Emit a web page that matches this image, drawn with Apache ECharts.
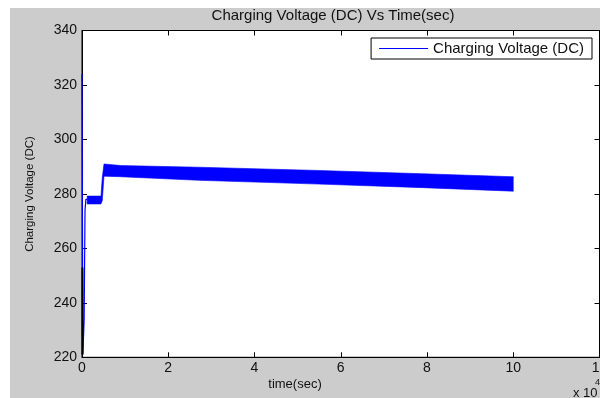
<!DOCTYPE html>
<html>
<head>
<meta charset="utf-8">
<script src="https://cdn.jsdelivr.net/npm/echarts@6/dist/echarts.min.js"></script>
<style>
  html, body { margin: 0; padding: 0; background: #fff; }
  #bg { position: absolute; left: 10px; top: 8px; width: 590px; height: 390px; background: #cccccc; }
  #main { position: absolute; left: 0; top: 0; width: 600px; height: 398px; }
</style>
</head>
<body>
<div id="bg"></div>
<div id="main"></div>
<script>
// time in units of 10^4 sec
var xTicks = [0, 2, 4, 6, 8, 10, 12];
var yTicks = [220, 240, 260, 280, 300, 320, 340];

// start-up transient (thin line)
var startTime = [0, 0.02, 0.05, 0.07, 0.09, 0.12];
var startVolt = [324, 221, 234, 274, 278, 278];

// short dark segment near t=0
var darkTime = [0.01, 0.01];
var darkVolt = [253, 221];

// ripple band: lower and upper envelope
var bandTime = [0.12, 0.44, 0.47, 0.51, 0.9, 2.7, 5.5, 7.9, 10.0];
var bandLow  = [276.3, 276.3, 277.5, 286.5, 286.3, 285.0, 283.6, 282.3, 281.0];
var bandHigh = [279.2, 279.2, 286.0, 291.0, 290.4, 289.8, 288.6, 287.4, 286.3];

var FONT = '"Liberation Sans", Arial, sans-serif';
var TXT = '#111';
var BLUE = '#0000ff';

var myChart = echarts.init(document.getElementById('main'));

var bandData = [], startData = [], darkData = [];
for (var i = 0; i < bandTime.length; i++) {
    bandData.push([bandTime[i], bandLow[i], bandHigh[i]]);
}
for (var i = 0; i < startTime.length; i++) {
    startData.push([startTime[i], startVolt[i]]);
}
for (var i = 0; i < darkTime.length; i++) {
    darkData.push([darkTime[i], darkVolt[i]]);
}

var tickStyle = { show: true, inside: true, length: 5, lineStyle: { color: '#000', width: 1 } };

// whole band as one polygon: upper edge left->right, lower edge right->left
function renderBand(params, api) {
    if (params.dataIndex !== 0) return;
    var pts = [];
    for (var i = 0; i < bandData.length; i++) {
        pts.push(api.coord([bandData[i][0], bandData[i][2]]));
    }
    for (var i = bandData.length - 1; i >= 0; i--) {
        pts.push(api.coord([bandData[i][0], bandData[i][1]]));
    }
    return {
        type: 'polygon',
        shape: { points: pts },
        style: { fill: BLUE, stroke: BLUE, lineWidth: 0.6 }
    };
}

myChart.setOption({
    animation: false,
    backgroundColor: 'transparent',
    grid: {
        left: 82, right: 0.5, top: 30.5, bottom: 40.7,
        outerBoundsMode: 'none',
        show: true, backgroundColor: '#fff', borderColor: '#000', borderWidth: 1
    },
    legend: {
        data: [{ name: 'Charging Voltage (DC)', icon: 'rect', itemStyle: { color: BLUE } }],
        right: 8, top: 38,
        itemWidth: 49, itemHeight: 1, itemGap: 5,
        padding: [3, 8, 3, 8],
        backgroundColor: '#fff', borderColor: '#000', borderWidth: 1,
        textStyle: { fontFamily: FONT, fontSize: 15, color: TXT }
    },
    xAxis: [{
        type: 'value', min: 0, max: 12, interval: 2, position: 'bottom',
        axisLine: { show: true, onZero: false, lineStyle: { color: '#000' } },
        axisTick: tickStyle,
        splitLine: { show: false },
        axisLabel: { color: TXT, fontFamily: FONT, fontSize: 14, margin: 4 }
    }, {
        type: 'value', min: 0, max: 12, interval: 2, position: 'top',
        axisLine: { show: true, onZero: false, lineStyle: { color: '#000' } },
        axisTick: tickStyle,
        splitLine: { show: false },
        axisLabel: { show: false }
    }],
    yAxis: [{
        type: 'value', min: 220, max: 340, interval: 20, position: 'left',
        axisLine: { show: true, onZero: false, lineStyle: { color: '#000' } },
        axisTick: tickStyle,
        splitLine: { show: false },
        axisLabel: { color: TXT, fontFamily: FONT, fontSize: 14, margin: 5 }
    }, {
        type: 'value', min: 220, max: 340, interval: 20, position: 'right',
        axisLine: { show: true, onZero: false, lineStyle: { color: '#000' } },
        axisTick: tickStyle,
        splitLine: { show: false },
        axisLabel: { show: false }
    }],
    graphic: [
        { type: 'text', x: 333, y: 16, style: { text: 'Charging Voltage (DC) Vs Time(sec)', font: '15px ' + FONT, fill: TXT, align: 'center', verticalAlign: 'middle' } },
        { type: 'text', x: 30, y: 194, rotation: Math.PI / 2, style: { text: 'Charging Voltage (DC)', font: '11.5px ' + FONT, fill: TXT, align: 'center', verticalAlign: 'middle' } },
        { type: 'text', x: 295, y: 384, style: { text: 'time(sec)', font: '13px ' + FONT, fill: TXT, align: 'center', verticalAlign: 'middle' } },
        { type: 'text', x: 573, y: 393, style: { text: 'x 10', font: '13px ' + FONT, fill: TXT, align: 'left', verticalAlign: 'middle' } },
        { type: 'text', x: 595, y: 383, style: { text: '4', font: '9px ' + FONT, fill: TXT, align: 'left', verticalAlign: 'middle' } }
    ],
    series: [{
        name: 'band', type: 'custom', data: bandData,
        renderItem: renderBand,
        encode: { x: 0, y: [1, 2] },
        silent: true
    }, {
        name: 'Charging Voltage (DC)', type: 'line', data: startData,
        symbol: 'none', itemStyle: { color: BLUE }, lineStyle: { color: BLUE, width: 1.2 }
    }, {
        name: 'dark', type: 'line', data: darkData,
        symbol: 'none', itemStyle: { color: '#000' }, lineStyle: { color: '#000', width: 2 }
    }]
});
</script>
</body>
</html>
